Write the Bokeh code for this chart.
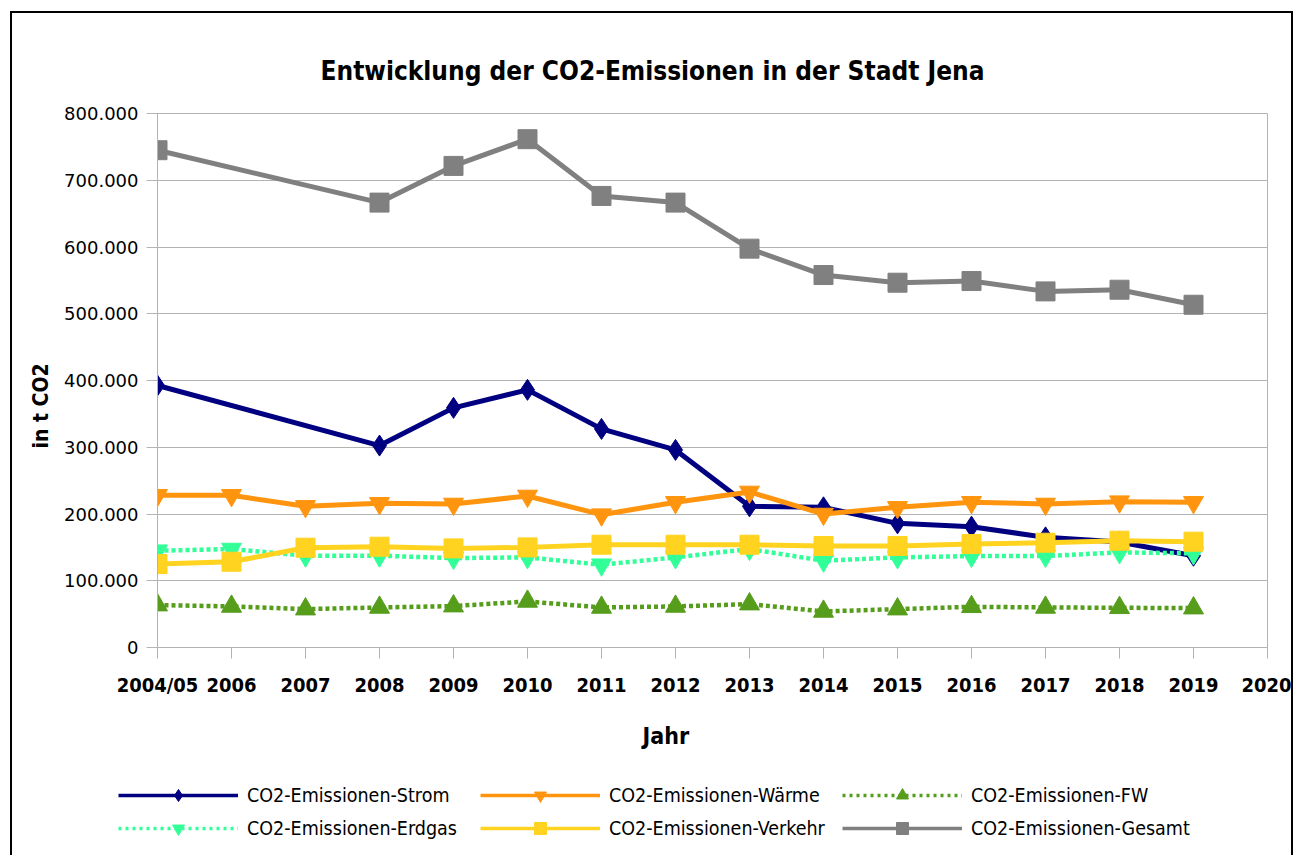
from bokeh.plotting import figure
from bokeh.layouts import column
from bokeh.models import Range1d, FixedTicker, Legend, LegendItem, Title
from bokeh.embed import file_html
from bokeh.resources import INLINE

categories = ["2004/05", "2006", "2007", "2008", "2009", "2010", "2011", "2012",
              "2013", "2014", "2015", "2016", "2017", "2018", "2019", "2020"]

years_all = ["2004/05", "2006", "2007", "2008", "2009", "2010", "2011", "2012",
             "2013", "2014", "2015", "2016", "2017", "2018", "2019"]
years_gap = ["2004/05", "2008", "2009", "2010", "2011", "2012",
             "2013", "2014", "2015", "2016", "2017", "2018", "2019"]

strom = [392500, 302500, 359000, 386000, 327500, 296000, 211500, 210000,
         186000, 181000, 165000, 158000, 137500]
waerme = [228000, 228000, 211500, 216000, 215000, 227000, 199000, 217500,
          233000, 200000, 210000, 217500, 215000, 218500, 217500]
fw = [63500, 61500, 57500, 60000, 62000, 69000, 60000, 61500,
      65000, 54000, 57500, 61000, 60000, 59500, 59000]
erdgas = [145000, 147500, 137500, 137500, 134000, 135000, 124000, 135000,
          147500, 130000, 135000, 137000, 137000, 142500, 141000]
verkehr = [125000, 128500, 149500, 151000, 148500, 150000, 154000, 154000,
           154000, 152000, 152000, 155000, 157000, 160000, 158500]
gesamt = [745000, 666500, 721500, 761500, 676500, 666500, 597500, 558000,
          546500, 549000, 533500, 536000, 513500]

y_ticks = [0, 100000, 200000, 300000, 400000, 500000, 600000, 700000, 800000]
y_labels = ["0", "100.000", "200.000", "300.000", "400.000", "500.000",
            "600.000", "700.000", "800.000"]

title_text = "Entwicklung der CO2-Emissionen in der Stadt Jena"
x_title = "Jahr"
y_title = "in t CO2"

FONT = "DejaVu Sans Condensed"
GRID = "#b3b3b3"
W = 1279
NAN = float("nan")


def xpos(labels):
    return [categories.index(c) for c in labels]


p = figure(width=W, height=760, output_backend="svg", toolbar_location=None,
           x_range=Range1d(0, len(categories) - 1), y_range=Range1d(0, 800000),
           min_border_left=145, min_border_right=24, min_border_top=100,
           min_border_bottom=126)
p.frame_align = False
p.outline_line_color = GRID
p.background_fill_color = "white"
p.border_fill_color = "white"

p.xgrid.grid_line_color = None
p.ygrid.grid_line_color = GRID
p.ygrid.ticker = FixedTicker(ticks=y_ticks)

p.yaxis.ticker = FixedTicker(ticks=y_ticks)
p.yaxis.major_label_overrides = {t: l for t, l in zip(y_ticks, y_labels)}
p.yaxis.major_label_text_font = "DejaVu Sans"
p.yaxis.major_label_text_font_size = "18px"
p.yaxis.major_label_standoff = 8

p.xaxis.ticker = FixedTicker(ticks=list(range(len(categories))))
p.xaxis.major_label_overrides = {i: c for i, c in enumerate(categories)}
p.xaxis.major_label_text_font = FONT
p.xaxis.major_label_text_font_style = "bold"
p.xaxis.major_label_text_font_size = "20px"
p.xaxis.major_label_standoff = 14

for ax in (p.xaxis, p.yaxis):
    ax.axis_line_color = GRID
    ax.major_tick_line_color = GRID
    ax.major_tick_out = 11
    ax.major_tick_in = 0
    ax.minor_tick_line_color = None
    ax.major_label_text_color = "black"

series = [
    ("CO2-Emissionen-Strom", years_gap, strom, "#000080", None, "diamond", 21),
    ("CO2-Emissionen-Wärme", years_all, waerme, "#ff950e", None, "inverted_triangle", 20),
    ("CO2-Emissionen-FW", years_all, fw, "#579d1c", "4 3", "triangle", 20),
    ("CO2-Emissionen-Erdgas", years_all, erdgas, "#33ff99", "4 3", "inverted_triangle", 20),
    ("CO2-Emissionen-Verkehr", years_all, verkehr, "#ffd320", None, "square", 19),
    ("CO2-Emissionen-Gesamt", years_gap, gesamt, "#808080", None, "square", 19),
]

# legend strip below the chart
pl = figure(width=W, height=82, output_backend="svg", toolbar_location=None,
            x_range=Range1d(0, 1), y_range=Range1d(0, 1),
            x_axis_type=None, y_axis_type=None, min_border=0)
pl.frame_align = False
pl.outline_line_color = None
pl.background_fill_color = "white"
pl.border_fill_color = "white"

items = []
for name, yrs, vals, col, dash, marker, size in series:
    xs = xpos(yrs)
    kw = dict(line_color=col, line_width=5 if dash is None else 4.5)
    lkw = dict(line_color=col, line_width=3.5)
    if dash:
        kw["line_dash"] = dash
        lkw["line_dash"] = "3 4"
    p.line(xs, vals, **kw)
    p.scatter(xs, vals, marker=marker, size=size, fill_color=col, line_color=col)
    l1 = pl.line([NAN], [NAN], **lkw)
    l2 = pl.scatter([NAN], [NAN], marker=marker, size=size, fill_color=col, line_color=col)
    items.append(LegendItem(label=name, renderers=[l1, l2]))

# legend fills column by column: reorder so rows read left to right
order = [0, 3, 1, 4, 2, 5]
legend = Legend(items=[items[i] for i in order], ncols=3, location=(106, 12),
                glyph_width=120, glyph_height=30, label_height=30, label_width=230,
                label_standoff=9, spacing=3, padding=0, margin=0,
                border_line_alpha=0, background_fill_alpha=0,
                label_text_font=FONT, label_text_font_size="19.5px",
                label_text_color="black")
pl.add_layout(legend, "center")

p.add_layout(Title(text=y_title, align="left", offset=199, standoff=17,
                   text_font=FONT, text_font_style="bold", text_font_size="21px",
                   text_color="black"),
             "left")
p.add_layout(Title(text=x_title, align="left", offset=485, standoff=43,
                   text_font=FONT, text_font_style="bold", text_font_size="23px",
                   text_color="black"),
             "below")
p.add_layout(Title(text=title_text, align="left", offset=163, standoff=56,
                   text_font=FONT, text_font_style="bold", text_font_size="26px",
                   text_color="black"),
             "above")

layout = column(p, pl, spacing=0,
                styles={"margin-left": "10px", "margin-top": "11px",
                        "border": "2px solid black"})

open("out.html", "w").write(file_html(layout, INLINE))
